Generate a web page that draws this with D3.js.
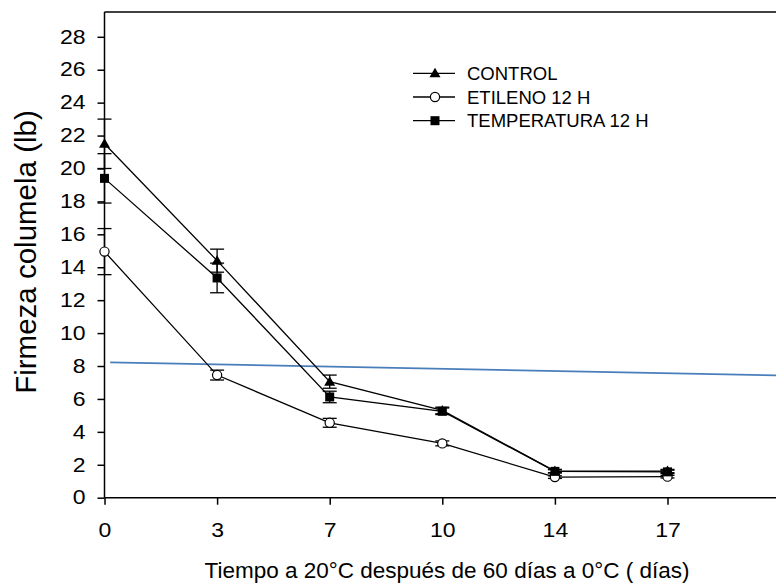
<!DOCTYPE html>
<html>
<head>
<meta charset="utf-8">
<script src="https://cdn.jsdelivr.net/npm/d3@7"></script>
<style>
  body { margin: 0; background: #fff; }
  svg { display: block; font-family: "Liberation Sans", Arial, sans-serif; }
</style>
</head>
<body>
<svg id="chart" width="776" height="584"></svg>
<script>
// days after cold storage (plotted as equally spaced categories)
var days = [0, 3, 7, 10, 14, 17];
var yTicks = [0, 2, 4, 6, 8, 10, 12, 14, 16, 18, 20, 22, 24, 26, 28];

var seriesNames = ['CONTROL', 'ETILENO 12 H', 'TEMPERATURA 12 H'];
var controlVals = [21.5, 14.4, 7.05, 5.3, 1.62, 1.62];
var controlErr = [1.5, 0.7, 0.4, 0.2, 0.1, 0.1];
var etilenoVals = [14.95, 7.45, 4.55, 3.3, 1.25, 1.28];
var etilenoErr = [1.4, 0.3, 0.27, 0.15, 0.08, 0.08];
var tempVals = [19.4, 13.35, 6.12, 5.25, 1.6, 1.57];
var tempErr = [1.5, 0.9, 0.35, 0.2, 0.1, 0.1];

// blue reference line (x in category units, y in lb)
var refLine = [[0.05, 8.22], [6, 7.43]];

var svg = d3.select('#chart');

var x = d3.scaleLinear().domain([0, 6]).range([104.5, 780.1]);
var y = d3.scaleLinear().domain([0, 28]).range([497.7, 36.8]);

var series = [
  { name: seriesNames[0], vals: controlVals, err: controlErr, shape: 'triangle' },
  { name: seriesNames[1], vals: etilenoVals, err: etilenoErr, shape: 'circle' },
  { name: seriesNames[2], vals: tempVals, err: tempErr, shape: 'square' }
];

// frame: top border line
svg.append('line')
  .attr('x1', x(0)).attr('x2', 776)
  .attr('y1', 12).attr('y2', 12)
  .attr('stroke', '#000').attr('stroke-width', 1.5);

// axes
var xAxis = d3.axisBottom(x)
  .tickValues(d3.range(days.length))
  .tickFormat(function(i) { return days[i]; })
  .tickSize(7).tickSizeOuter(0).tickPadding(18);

var gx = svg.append('g')
  .attr('transform', 'translate(0,' + y(0) + ')')
  .call(xAxis);

var yAxis = d3.axisLeft(y)
  .tickValues(yTicks)
  .tickSize(7).tickSizeOuter(0).tickPadding(12);

var gy = svg.append('g')
  .attr('transform', 'translate(' + x(0) + ',0)')
  .call(yAxis);

// y axis line should reach the top border
gy.select('.domain').attr('d', 'M0,' + y(0) + 'V12');
gx.select('.domain').attr('d', 'M' + x(0) + ',0H776');

[gx, gy].forEach(function(g) {
  g.selectAll('.domain, .tick line').attr('stroke', '#000').attr('stroke-width', 1.5);
  g.selectAll('.tick text')
    .attr('fill', '#000')
    .style('font-size', '19.5px')
    .attr('font-family', '"Liberation Sans", Arial, sans-serif')
    .attr('lengthAdjust', 'spacingAndGlyphs')
    .attr('textLength', function() { return this.textContent.length * 12.8; });
});

// axis titles
svg.append('text')
  .attr('x', 447).attr('y', 578)
  .attr('text-anchor', 'middle')
  .style('font-size', '22.5px')
  .text('Tiempo a 20°C después de 60 días a 0°C ( días)');

svg.append('text')
  .attr('transform', 'translate(36,252) rotate(-90)')
  .attr('text-anchor', 'middle')
  .style('font-size', '29.5px')
  .text('Firmeza columela (lb)');

// blue reference line
svg.append('path')
  .datum(refLine)
  .attr('fill', 'none')
  .attr('stroke', '#4a7ebb')
  .attr('stroke-width', 1.8)
  .attr('d', d3.line().x(function(d) { return x(d[0]); }).y(function(d) { return y(d[1]); }));

var line = d3.line()
  .x(function(d, i) { return x(i); })
  .y(function(d) { return y(d); });

function drawMarker(g, shape, cx, cy) {
  if (shape === 'circle') {
    g.append('circle').attr('cx', cx).attr('cy', cy).attr('r', 4.6)
      .attr('fill', '#fff').attr('stroke', '#000').attr('stroke-width', 1.2);
  } else if (shape === 'square') {
    g.append('rect').attr('x', cx - 4.5).attr('y', cy - 4.5)
      .attr('width', 9).attr('height', 9).attr('fill', '#000');
  } else {
    g.append('path')
      .attr('d', 'M' + cx + ',' + (cy - 5.5) + 'L' + (cx + 5.5) + ',' + (cy + 4) + 'L' + (cx - 5.5) + ',' + (cy + 4) + 'Z')
      .attr('fill', '#000');
  }
}

var gData = svg.append('g');

series.forEach(function(s) {
  var g = gData.append('g');

  g.append('path')
    .datum(s.vals)
    .attr('fill', 'none')
    .attr('stroke', '#000')
    .attr('stroke-width', 1.3)
    .attr('d', line);

  // error bars
  s.vals.forEach(function(v, i) {
    var e = s.err[i];
    var cx = x(i);
    var eb = g.append('g').attr('stroke', '#000').attr('stroke-width', 1.3);
    eb.append('line').attr('x1', cx).attr('x2', cx).attr('y1', y(v - e)).attr('y2', y(v + e));
    eb.append('line').attr('x1', cx - 7).attr('x2', cx + 7).attr('y1', y(v + e)).attr('y2', y(v + e));
    eb.append('line').attr('x1', cx - 7).attr('x2', cx + 7).attr('y1', y(v - e)).attr('y2', y(v - e));
  });

  s.vals.forEach(function(v, i) {
    drawMarker(g, s.shape, x(i), y(v));
  });
});

// legend
var legend = svg.append('g');
series.forEach(function(s, i) {
  var ly = 73.3 + i * 23.7;
  legend.append('line')
    .attr('x1', 413).attr('x2', 455).attr('y1', ly).attr('y2', ly)
    .attr('stroke', '#000').attr('stroke-width', 1.3);
  drawMarker(legend, s.shape, 435, ly);
  legend.append('text')
    .attr('x', 467).attr('y', ly + 6.5)
    .style('font-size', '18.5px')
    .text(s.name);
});
</script>
</body>
</html>
